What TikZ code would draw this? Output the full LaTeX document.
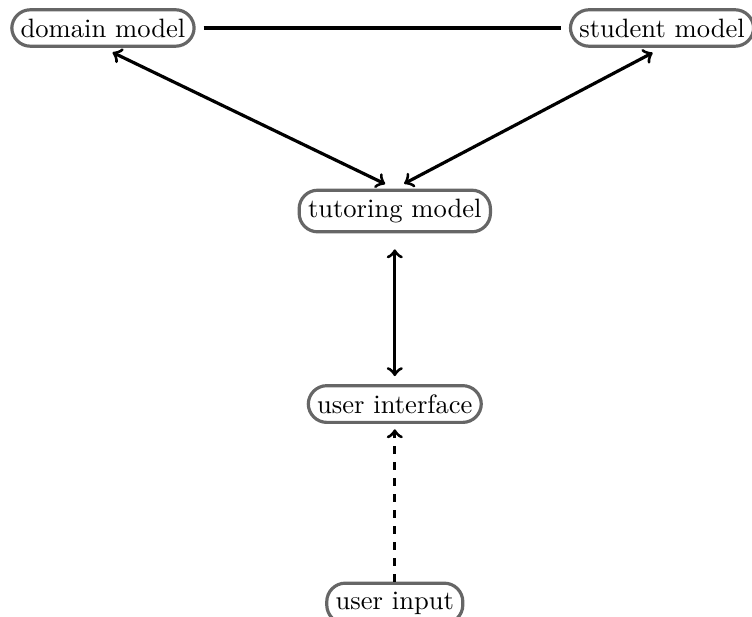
\documentclass[tikz,border=0pt]{standalone}
\usepackage{amsmath, amssymb}
\usepackage{tikz}

\begin{document}
\begin{tikzpicture}[box/.style={draw=black!60,very thick,rounded corners=7pt},
  link/.style={very thick}]
  \useasboundingbox (0,0) rectangle (9.947,-8.161);
  \node[box] (domain) at (1.362,-0.370) {domain model};
  \node[box] (student) at (8.757,-0.370) {student model};
  \node[box] (tutor) at (5.222,-2.791) {tutoring model};
  \node[box] (ui) at (5.222,-5.344) {user interface};
  \node[box] (input) at (5.222,-7.98) {user input};
  \draw[link,shorten <=3pt,shorten >=3pt] (domain)--(student);
  \draw[link,<->,shorten <=4pt,shorten >=4pt] (domain.south)--(tutor.north);
  \draw[link,<->,shorten <=4pt,shorten >=4pt] (student.south)--(tutor.north);
  \draw[link,<->,shorten <=6pt,shorten >=3pt] (tutor.south)--(ui.north);
  \draw[link,->,dashed,shorten >=2pt] (input.north)--(ui.south);
\end{tikzpicture}
\end{document}
